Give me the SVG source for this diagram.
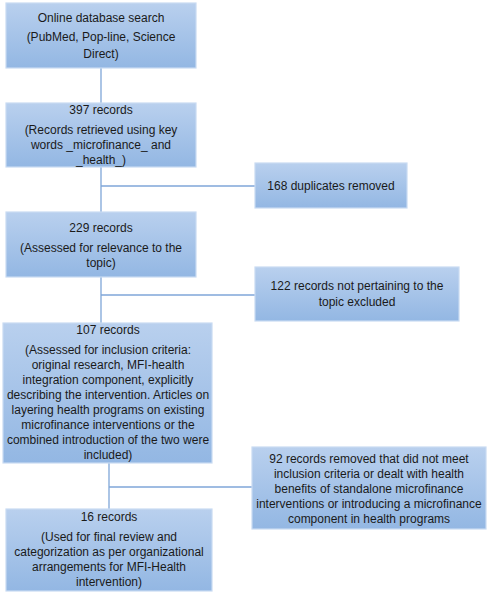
<svg xmlns="http://www.w3.org/2000/svg" width="500" height="600" viewBox="0 0 500 600">
<defs>
<linearGradient id="g" x1="0" y1="0" x2="0" y2="1">
<stop offset="0" stop-color="#b9d0ee"/>
<stop offset="1" stop-color="#93b7e3"/>
</linearGradient>
<style>
.box{fill:url(#g);stroke:#c9dbf2;stroke-width:1.2}
text{font-family:"Liberation Sans",Arial,sans-serif;font-size:12px;fill:#1a1a1a;text-anchor:middle}
.ln{stroke:#7fa6d8;stroke-width:1.3;fill:none}
</style>
</defs>
<g id="connectors">
<line class="ln" x1="101" y1="68" x2="101" y2="103"/>
<line class="ln" x1="101" y1="167" x2="101" y2="212"/>
<line class="ln" x1="101" y1="186" x2="255" y2="186"/>
<line class="ln" x1="101" y1="277" x2="101" y2="323"/>
<line class="ln" x1="101" y1="295" x2="255" y2="295"/>
<line class="ln" x1="109" y1="463" x2="109" y2="509"/>
<line class="ln" x1="109" y1="487" x2="252" y2="487"/>
</g>
<g id="n1">
<rect class="box" x="6" y="3" width="190" height="65"/>
<text x="101" y="22">Online database search</text>
<text x="101" y="41">(PubMed, Pop-line, Science</text>
<text x="101" y="58">Direct)</text>
</g>
<g id="n2">
<rect class="box" x="6" y="103" width="190" height="64"/>
<text x="101" y="114">397 records</text>
<text x="101" y="134">(Records retrieved using key</text>
<text x="101" y="149">words _microfinance_ and</text>
<text x="101" y="164">_health_)</text>
</g>
<g id="n3">
<rect class="box" x="255" y="163" width="152" height="45"/>
<text x="331" y="190">168 duplicates removed</text>
</g>
<g id="n4">
<rect class="box" x="6" y="212" width="190" height="65"/>
<text x="101" y="232">229 records</text>
<text x="101" y="252">(Assessed for relevance to the</text>
<text x="101" y="267">topic)</text>
</g>
<g id="n5">
<rect class="box" x="255" y="267" width="204" height="54"/>
<text x="357" y="290">122 records not pertaining to the</text>
<text x="357" y="306">topic excluded</text>
</g>
<g id="n6">
<rect class="box" x="3" y="323" width="209" height="140"/>
<text x="108" y="334">107 records</text>
<text x="108" y="354">(Assessed for inclusion criteria:</text>
<text x="108" y="369">original research, MFI-health</text>
<text x="108" y="384">integration component, explicitly</text>
<text x="108" y="399">describing the intervention. Articles on</text>
<text x="108" y="414">layering health programs on existing</text>
<text x="108" y="429">microfinance interventions or the</text>
<text x="108" y="444">combined introduction of the two were</text>
<text x="108" y="459">included)</text>
</g>
<g id="n7">
<rect class="box" x="252" y="447" width="234" height="82"/>
<text x="369" y="463">92 records removed that did not meet</text>
<text x="369" y="478">inclusion criteria or dealt with health</text>
<text x="369" y="493">benefits of standalone microfinance</text>
<text x="369" y="508">interventions or introducing a microfinance</text>
<text x="369" y="523">component in health programs</text>
</g>
<g id="n8">
<rect class="box" x="6" y="509" width="206" height="82"/>
<text x="109" y="521">16 records</text>
<text x="109" y="541">(Used for final review and</text>
<text x="109" y="556">categorization as per organizational</text>
<text x="109" y="571">arrangements for MFI-Health</text>
<text x="109" y="586">intervention)</text>
</g>
</svg>
